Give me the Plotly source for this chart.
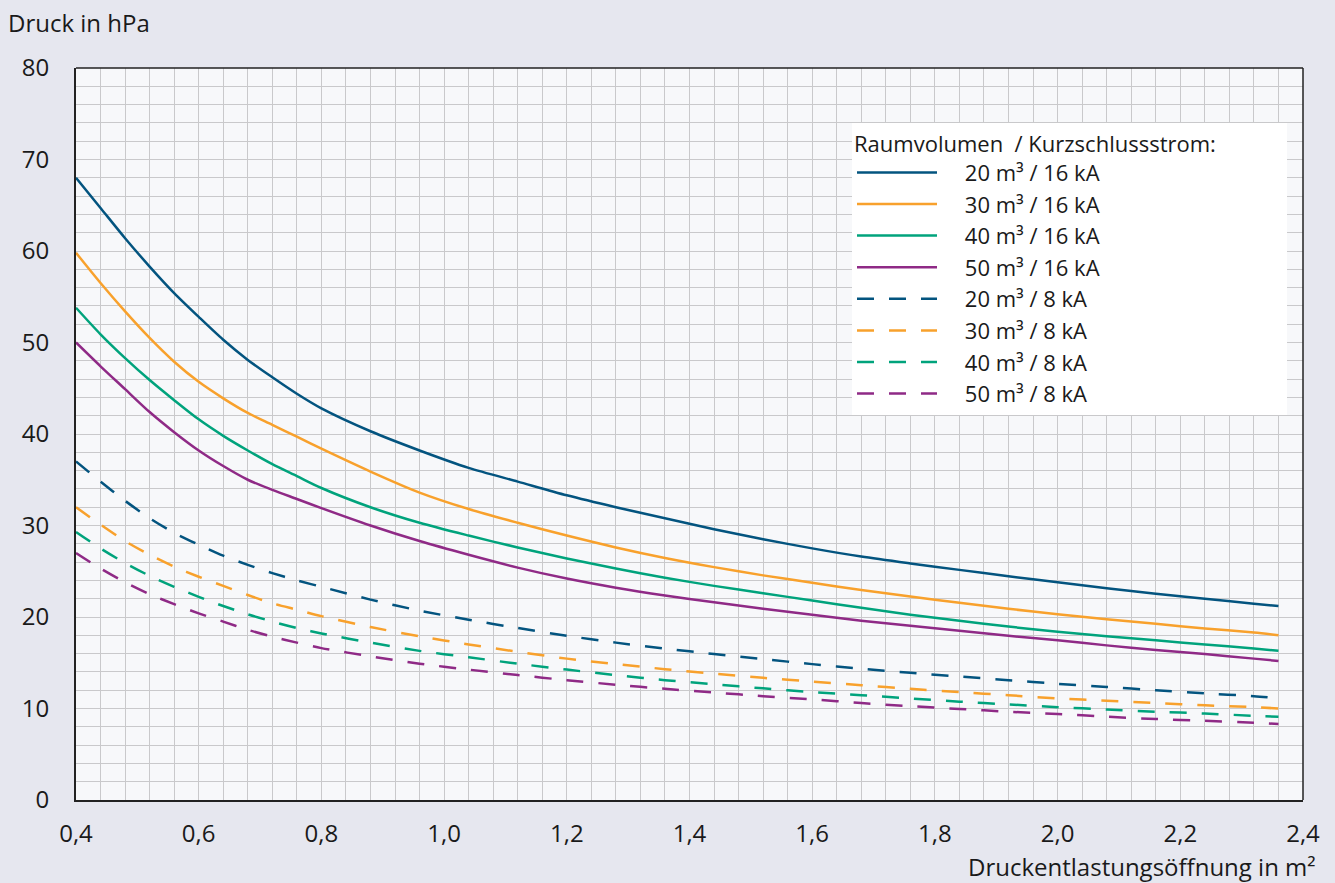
import plotly.graph_objects as go

x = [0.40, 0.44, 0.48, 0.52, 0.56, 0.60, 0.64, 0.68, 0.72, 0.76, 0.80, 0.88, 0.96,
     1.04, 1.12, 1.20, 1.28, 1.36, 1.44, 1.52, 1.60, 1.68, 1.76, 1.84, 1.92, 2.00,
     2.08, 2.16, 2.24, 2.32, 2.36]

v20_16 = [68.0, 64.7, 61.4, 58.3, 55.4, 52.8, 50.3, 48.1, 46.2, 44.4, 42.8, 40.3, 38.2,
          36.3, 34.8, 33.3, 32.0, 30.8, 29.6, 28.5, 27.5, 26.6, 25.85, 25.15, 24.45, 23.8,
          23.15, 22.55, 22.0, 21.45, 21.2]
v30_16 = [59.8, 56.5, 53.4, 50.5, 47.9, 45.7, 43.9, 42.3, 41.0, 39.7, 38.4, 35.9, 33.6,
          31.8, 30.3, 28.9, 27.6, 26.45, 25.45, 24.55, 23.75, 22.95, 22.25, 21.55, 20.9, 20.3,
          19.75, 19.25, 18.75, 18.3, 18.0]
v40_16 = [53.8, 50.9, 48.3, 45.9, 43.7, 41.6, 39.8, 38.2, 36.7, 35.4, 34.1, 32.0, 30.3,
          28.9, 27.6, 26.4, 25.3, 24.3, 23.4, 22.6, 21.8, 21.0, 20.25, 19.6, 18.95, 18.4,
          17.9, 17.45, 17.0, 16.55, 16.3]
v50_16 = [50.0, 47.4, 44.9, 42.4, 40.2, 38.2, 36.5, 35.0, 33.9, 32.9, 31.9, 30.0, 28.3,
          26.8, 25.4, 24.2, 23.2, 22.35, 21.6, 20.9, 20.25, 19.6, 19.05, 18.5, 17.95, 17.45,
          16.9, 16.4, 15.95, 15.45, 15.2]
v20_8 = [37.0, 34.8, 32.7, 30.8, 29.2, 27.9, 26.7, 25.7, 24.8, 24.0, 23.3, 21.9, 20.7,
         19.7, 18.8, 17.95, 17.2, 16.55, 15.95, 15.4, 14.85, 14.35, 13.9, 13.5, 13.1, 12.7,
         12.35, 12.0, 11.65, 11.35, 11.1]
v30_8 = [32.0, 30.1, 28.3, 26.8, 25.5, 24.4, 23.4, 22.4, 21.5, 20.8, 20.1, 18.9, 17.9,
         17.0, 16.2, 15.45, 14.85, 14.3, 13.8, 13.35, 12.95, 12.55, 12.15, 11.8, 11.45, 11.1,
         10.85, 10.6, 10.35, 10.15, 10.0]
v40_8 = [29.3, 27.5, 25.9, 24.5, 23.3, 22.2, 21.2, 20.3, 19.5, 18.8, 18.2, 17.2, 16.3,
         15.6, 14.9, 14.25, 13.65, 13.1, 12.65, 12.2, 11.8, 11.45, 11.1, 10.75, 10.45, 10.15,
         9.9, 9.65, 9.45, 9.2, 9.1]
v50_8 = [27.0, 25.3, 23.8, 22.5, 21.4, 20.4, 19.5, 18.6, 17.85, 17.2, 16.6, 15.7, 14.9,
         14.25, 13.65, 13.1, 12.6, 12.15, 11.75, 11.35, 11.0, 10.6, 10.25, 9.95, 9.65, 9.4,
         9.1, 8.85, 8.65, 8.45, 8.3]

names = ["20 m³ / 16 kA", "30 m³ / 16 kA", "40 m³ / 16 kA", "50 m³ / 16 kA",
         "20 m³ / 8 kA", "30 m³ / 8 kA", "40 m³ / 8 kA", "50 m³ / 8 kA"]
legend_title = "Raumvolumen  / Kurzschlussstrom:"
series = [v20_16, v30_16, v40_16, v50_16, v20_8, v30_8, v40_8, v50_8]
colors = ["#03547f", "#f8a12c", "#00a37c", "#8f2a86"]

FONT = "Open Sans"
FS = 24
LFS = 22
PAD = "\u00a0" * 4
fig = go.Figure()
for i, (nm, vals) in enumerate(zip(names, series)):
    fig.add_trace(go.Scatter(
        x=x, y=vals, name=PAD + nm, mode="lines",
        line=dict(color=colors[i % 4], width=2.5, shape="spline", smoothing=0.8,
                  dash="solid" if i < 4 else "17px,15px"),
    ))

grid_c = "#c9c9cb"
fig.update_layout(
    width=1335, height=883,
    paper_bgcolor="#e6e7ef",
    plot_bgcolor="#f7f8fa",
    font=dict(family=FONT, size=FS, color="#1a1a1a"),
    separators=",.",
    margin=dict(l=76, r=32, t=68, b=83),
    showlegend=True,
    legend=dict(
        x=(852 - 76) / 1227, y=(800 - 123) / 732, xanchor="left", yanchor="top",
        bgcolor="#ffffff", borderwidth=0,
        title=dict(text=legend_title + "\u00a0" * 12, font=dict(size=LFS)),
        font=dict(size=LFS), itemwidth=80, tracegroupgap=0,
    ),
    xaxis=dict(
        range=[0.4, 2.4], tick0=0.4, dtick=0.2, tickformat=".1f",
        showgrid=True, gridcolor=grid_c, gridwidth=1,
        minor=dict(dtick=0.04, tick0=0.4, showgrid=True, gridcolor=grid_c, gridwidth=1),
        showline=True, linecolor="#222222", linewidth=2, mirror=False,
        ticks="outside", ticklen=11, tickcolor="rgba(0,0,0,0)",
        zeroline=False, fixedrange=True,
    ),
    yaxis=dict(
        range=[0, 80], dtick=10, tick0=0,
        showgrid=True, gridcolor=grid_c, gridwidth=1,
        minor=dict(dtick=2, showgrid=True, gridcolor=grid_c, gridwidth=1),
        showline=True, linecolor="#222222", linewidth=2, mirror=False,
        ticks="outside", ticklen=20, tickcolor="rgba(0,0,0,0)",
        zeroline=False, fixedrange=True,
    ),
)
# top/right thin frame
fig.add_shape(type="line", xref="paper", yref="paper", x0=0, x1=1, y0=1, y1=1,
              line=dict(color="#222222", width=1.5))
fig.add_shape(type="line", xref="paper", yref="paper", x0=1, x1=1, y0=0, y1=1,
              line=dict(color="#222222", width=1.5))

fig.add_annotation(text="Druck in hPa", xref="paper", yref="paper",
                   x=(6 - 76) / 1227, y=(800 - 22) / 732, xanchor="left", yanchor="middle",
                   showarrow=False, font=dict(size=FS))
fig.add_annotation(text="Druckentlastungsöffnung in m²", xref="paper", yref="paper",
                   x=(1318 - 76) / 1227, y=(800 - 866) / 732, xanchor="right", yanchor="middle",
                   showarrow=False, font=dict(size=FS))

fig.write_html("out.html")
